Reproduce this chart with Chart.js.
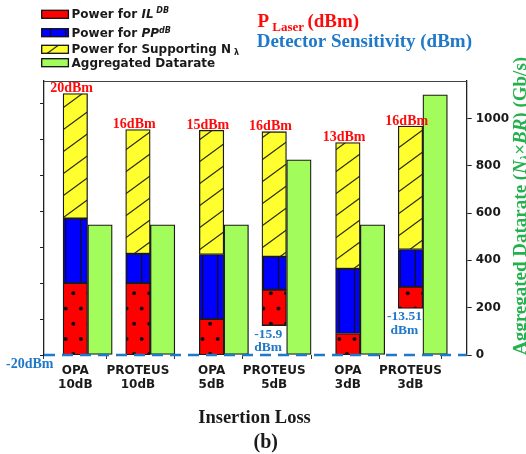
<!DOCTYPE html>
<html>
<head>
<meta charset="utf-8">
<script src="https://cdn.jsdelivr.net/npm/chart.js@4.4.1/dist/chart.umd.min.js"></script>
<style>
  html, body { margin: 0; padding: 0; background: #fff; }
  canvas { display: block; }
</style>
</head>
<body>
<canvas id="chart" width="526" height="454"></canvas>
<script>
// ---- data -------------------------------------------------------------
const categories = ['OPA 10dB', 'PROTEUS 10dB', 'OPA 5dB', 'PROTEUS 5dB', 'OPA 3dB', 'PROTEUS 3dB'];
const laserPower = [20, 16, 15, 16, 13, 16];                          // P_Laser (dBm)
const detectorSensitivity = [-20, -20, -20, -15.9, -20, -13.51];      // dBm
const ilPower = [10, 10, 5, 5, 3, 3];                                 // dB
const ppPower = [9, 4.1, 9, 4.6, 9, 5.2];                             // dB
const nLambdaPower = [17.4, 17.3, 17.3, 17.4, 17.6, 17.2];            // dB
const aggregatedDatarate = [550, 550, 550, 825, 550, 1100];           // Gb/s
const datarateTicks = [0, 200, 400, 600, 800, 1000];
const powerTicks = [-20, -15, -10, -5, 0, 5, 10, 15];

// ---- layout ------------------------------------------------------------
const PAIR_STEP = 2.176;      // distance between OPA/PROTEUS pairs on the x axis
const GREEN_OFFSET = 0.394;   // datarate bar sits right beside its power stack
const stackX = i => Math.floor(i / 2) * PAIR_STEP + (i % 2);

const SANS = '"DejaVu Sans", sans-serif';
const SERIF = '"Liberation Serif", "Times New Roman", serif';
const RED_TXT = '#ff0a0a';
const BLUE_TXT = '#1f78c8';
const GREEN_TXT = '#22b14c';

// ---- hatch patterns (anchored to the canvas origin) ---------------------
function makeTile(w, h, paint) {
  const c = document.createElement('canvas');
  c.width = w; c.height = h;
  const g = c.getContext('2d');
  paint(g, w, h);
  return document.getElementById('chart').getContext('2d').createPattern(c, 'repeat');
}
const HATCH = 15.2;
const dotsRed = makeTile(76, 152, (g, w, h) => {
  g.fillStyle = '#ff0000'; g.fillRect(0, 0, w, h);
  g.fillStyle = '#111';
  for (let r = 0; r < 10; r++) {
    const y = 4.5 + r * HATCH;
    const x0 = r % 2 ? 12.5 : 4.9;
    for (let k = 0; k < 5; k++) {
      g.beginPath(); g.arc(x0 + k * HATCH, y, 2, 0, Math.PI * 2); g.fill();
    }
  }
});
const linesBlue = makeTile(76, 4, (g, w, h) => {
  g.fillStyle = '#0000ff'; g.fillRect(0, 0, w, h);
  g.strokeStyle = '#111'; g.lineWidth = 1.2;
  for (let k = 0; k < 5; k++) {
    const x = 4.9 + k * HATCH;
    g.beginPath(); g.moveTo(x, 0); g.lineTo(x, h); g.stroke();
  }
});
const slashYellow = makeTile(30, 22, (g, w, h) => {
  g.fillStyle = '#ffff30'; g.fillRect(0, 0, w, h);
  g.strokeStyle = '#2a2a10'; g.lineWidth = 1.2;
  for (let n = -1; n <= 1; n++) {
    g.beginPath();
    g.moveTo(-w + n * w, 2 * h);
    g.lineTo(2 * w + n * w, -h);
    g.stroke();
  }
});
const plainGreen = '#a2fc5c';

// ---- datasets ----------------------------------------------------------
const barCommon = {
  grouped: false,
  barThickness: 24.5,
  borderWidth: 1.3,
  borderColor: '#1b1b1b',
  borderSkipped: false
};
const ilData = categories.map((c, i) => {
  const s = detectorSensitivity[i];
  return { x: stackX(i), y: [s, s + ilPower[i]] };
});
const ppData = categories.map((c, i) => {
  const s = detectorSensitivity[i] + ilPower[i];
  return { x: stackX(i), y: [s, s + ppPower[i]] };
});
const nData = categories.map((c, i) => {
  const s = detectorSensitivity[i] + ilPower[i] + ppPower[i];
  return { x: stackX(i), y: [s, s + nLambdaPower[i]] };
});
const rateData = categories.map((c, i) => ({ x: stackX(i) + GREEN_OFFSET, y: aggregatedDatarate[i] }));

const datasets = [
  { ...barCommon, label: 'Power for IL^DB', data: ilData, backgroundColor: dotsRed, yAxisID: 'y' },
  { ...barCommon, label: 'Power for PP^dB', data: ppData, backgroundColor: linesBlue, yAxisID: 'y' },
  { ...barCommon, label: 'Power for Supporting N_λ', data: nData, backgroundColor: slashYellow, yAxisID: 'y' },
  { ...barCommon, label: 'Aggregated Datarate', data: rateData, backgroundColor: plainGreen, yAxisID: 'y2' }
];

// legend text, written as styled runs
const legendRuns = [
  [{ t: 'Power for ' }, { t: 'IL', it: true }, { t: ' DB', it: true, size: 8, dy: -5.6 }],
  [{ t: 'Power for ' }, { t: 'PP', it: true }, { t: 'dB', it: true, size: 8, dy: -4 }],
  [{ t: 'Power for Supporting N' }, { t: ' λ', size: 8, dy: 1.5 }],
  [{ t: 'Aggregated Datarate' }]
];
const LEGEND_BASELINES = [18.3, 36.7, 53.3, 66.7];

function drawRuns(ctx, x, y, runs, family, baseSize, color) {
  let cx = x;
  for (const r of runs) {
    const size = r.size || baseSize;
    ctx.font = `${r.it ? 'italic ' : ''}bold ${size}px ${family}`;
    ctx.fillStyle = r.color || color;
    ctx.fillText(r.t, cx, y + (r.dy || 0));
    cx += ctx.measureText(r.t).width;
  }
  return cx;
}

// ---- decorations drawn around the plot ----------------------------------
const decor = {
  id: 'decor',
  beforeDraw(chart) {
    const ctx = chart.ctx;
    ctx.save();
    ctx.fillStyle = '#fff';
    ctx.fillRect(0, 0, chart.width, chart.height);
    ctx.restore();
  },
  afterDatasetsDraw(chart) {
    const ctx = chart.ctx;
    const a = chart.chartArea;
    const ys = chart.scales.y;
    ctx.save();
    // top frame line
    ctx.strokeStyle = '#444';
    ctx.lineWidth = 1;
    ctx.beginPath(); ctx.moveTo(a.left, a.top + 0.5); ctx.lineTo(a.right, a.top + 0.5); ctx.stroke();
    // detector sensitivity reference line
    const yb = ys.getPixelForValue(detectorSensitivity[0]);
    ctx.strokeStyle = BLUE_TXT;
    ctx.lineWidth = 2.5;
    ctx.setLineDash([11, 7]);
    ctx.beginPath(); ctx.moveTo(a.left, yb); ctx.lineTo(a.right, yb); ctx.stroke();
    ctx.restore();
  },
  afterDraw(chart) {
    const ctx = chart.ctx;
    const xs = chart.scales.x, ys = chart.scales.y;
    ctx.save();
    ctx.textBaseline = 'alphabetic';

    // legend
    ctx.textAlign = 'left';
    chart.data.datasets.forEach((ds, i) => {
      const by = LEGEND_BASELINES[i];
      ctx.fillStyle = ds.backgroundColor;
      ctx.fillRect(41.7, by - 8, 26.7, 8);
      ctx.strokeStyle = '#111'; ctx.lineWidth = 1.3;
      ctx.strokeRect(41.7, by - 8, 26.7, 8);
      drawRuns(ctx, 71.5, by, legendRuns[i], SANS, 12, '#1a1a1a');
    });

    // header texts
    let hx = drawRuns(ctx, 257.5, 27.3, [{ t: 'P' }], SERIF, 19, RED_TXT);
    hx = drawRuns(ctx, hx, 30.6, [{ t: ' Laser ' }], SERIF, 13, RED_TXT);
    drawRuns(ctx, hx, 27.3, [{ t: '(dBm)' }], SERIF, 19, RED_TXT);
    drawRuns(ctx, 256.7, 46.7, [{ t: 'Detector Sensitivity (dBm)' }], SERIF, 19, BLUE_TXT);

    // laser power above each stack
    ctx.textAlign = 'center';
    ctx.font = `bold 14px ${SERIF}`;
    ctx.fillStyle = RED_TXT;
    categories.forEach((c, i) => {
      const top = detectorSensitivity[i] + ilPower[i] + ppPower[i] + nLambdaPower[i];
      ctx.fillText(`${laserPower[i]}dBm`, xs.getPixelForValue(stackX(i)) - 3.7, ys.getPixelForValue(top) - 1.5);
    });

    // detector sensitivity labels
    ctx.fillStyle = BLUE_TXT;
    ctx.font = `bold 14px ${SERIF}`;
    ctx.textAlign = 'right';
    ctx.fillText(`${detectorSensitivity[0]}dBm`, 53.5, ys.getPixelForValue(detectorSensitivity[0]) + 13);
    ctx.textAlign = 'center';
    ctx.font = `bold 13.5px ${SERIF}`;
    categories.forEach((c, i) => {
      const s = detectorSensitivity[i];
      if (s === detectorSensitivity[0]) return;
      const cx = xs.getPixelForValue(stackX(i)) - 6;
      const py = ys.getPixelForValue(s);
      ctx.fillText(`${s}`, cx, py + 12);
      ctx.fillText('dBm', cx, py + 25.3);
    });

    // x axis title and panel tag
    ctx.fillStyle = '#1a1a1a';
    ctx.font = `bold 18.5px ${SERIF}`;
    ctx.fillText('Insertion Loss', 254.5, 423.3);
    ctx.font = `bold 20px ${SERIF}`;
    ctx.fillText('(b)', 265.7, 447.5);

    // right axis title (rotated)
    ctx.translate(525.5, 355);
    ctx.rotate(-Math.PI / 2);
    ctx.textAlign = 'left';
    drawRuns(ctx, 0, 0, [
      { t: 'Aggregated Datarate (' },
      { t: 'N', it: true },
      { t: 'λ', it: true, size: 12, dy: 3.5 },
      { t: '×' },
      { t: 'BR', it: true },
      { t: ') (Gb/s)' }
    ], SERIF, 19, GREEN_TXT);
    ctx.restore();
  }
};

// ---- chart -------------------------------------------------------------
new Chart(document.getElementById('chart'), {
  type: 'bar',
  data: { datasets },
  options: {
    responsive: false,
    animation: false,
    devicePixelRatio: 1,
    layout: { padding: { top: 81, left: 0, right: 0, bottom: 0 } },
    plugins: { legend: { display: false }, tooltip: { enabled: false } },
    scales: {
      x: {
        type: 'linear',
        position: 'bottom',
        min: -0.5,
        max: 6.25,
        offset: false,
        afterBuildTicks: s => { s.ticks = categories.map((c, i) => ({ value: stackX(i) })); },
        afterFit: s => { s.height = 99; },
        ticks: {
          callback: (v, i) => categories[i].split(' '),
          autoSkip: false,
          maxRotation: 0,
          padding: 5,
          color: '#1a1a1a',
          font: { family: SANS, size: 12, weight: 'bold', lineHeight: 1.17 }
        },
        grid: { drawOnChartArea: false, drawTicks: true, tickLength: 4, color: '#333' },
        border: { display: false }
      },
      y: {
        type: 'linear',
        position: 'left',
        min: -20,
        max: 18.16,
        afterBuildTicks: s => { s.ticks = powerTicks.map(v => ({ value: v })); },
        afterFit: s => { s.width = 44; },
        ticks: { display: false },
        grid: { drawOnChartArea: false, drawTicks: true, tickLength: 4, color: '#222' },
        border: { color: '#222', width: 1.3 }
      },
      y2: {
        type: 'linear',
        position: 'right',
        min: 0,
        max: 1158,
        afterBuildTicks: s => { s.ticks = datarateTicks.map(v => ({ value: v })); },
        afterFit: s => { s.width = 59.3; },
        ticks: {
          callback: v => String(v),
          padding: 4,
          color: '#1a1a1a',
          font: { family: SANS, size: 12, weight: 'bold' }
        },
        grid: { drawOnChartArea: false, drawTicks: true, tickLength: 5, color: '#222' },
        border: { color: '#222', width: 1.3 }
      }
    }
  },
  plugins: [decor]
});
</script>
</body>
</html>
